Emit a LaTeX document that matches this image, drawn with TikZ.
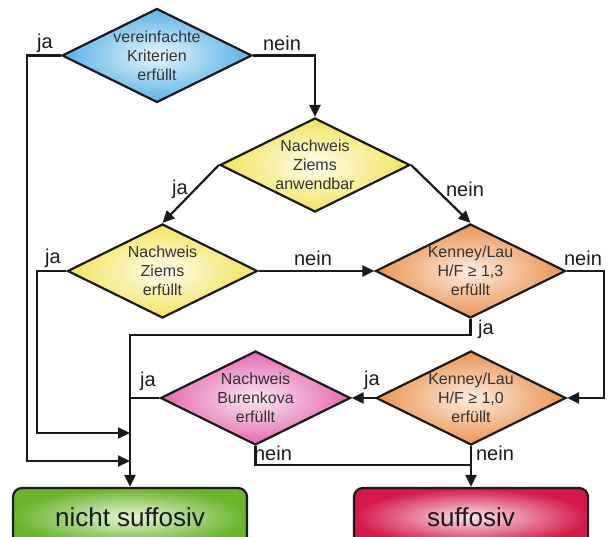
\documentclass[tikz,border=0pt]{standalone}
\usepackage{fontspec}
\setmainfont{Liberation Sans}
\usetikzlibrary{shapes.geometric, arrows.meta}
\definecolor{lineC}{HTML}{1A1A1A}
\definecolor{txtC}{HTML}{333333}
\definecolor{blueO}{HTML}{55B3E8}
\definecolor{blueI}{HTML}{EAF6FC}
\definecolor{yelO}{HTML}{F2E45C}
\definecolor{yelI}{HTML}{FFFDF0}
\definecolor{oraO}{HTML}{EA9450}
\definecolor{oraI}{HTML}{FCEDE0}
\definecolor{pinO}{HTML}{E468B0}
\definecolor{pinI}{HTML}{FBEAF3}
\definecolor{greO}{HTML}{6BB42C}
\definecolor{greI}{HTML}{E8F4D8}
\definecolor{redO}{HTML}{D41848}
\definecolor{redI}{HTML}{FAE6EC}
\begin{document}
\begin{tikzpicture}[x=1pt,y=-1pt, line width=2.2pt,
  conn/.style={draw=lineC, line width=2.2pt},
  dia/.style={shape=diamond, draw=lineC, line width=2.2pt, minimum width=190pt, minimum height=94pt, inner sep=0pt},
  dtext/.style={align=center, text=txtC, font=\fontsize{16}{19}\selectfont, inner sep=0pt},
  lab/.style={text=lineC, font=\fontsize{20}{24}\selectfont, inner sep=0pt},
  endbox/.style={draw=lineC, line width=2.2pt, rounded corners=9pt, minimum width=234pt, minimum height=58pt, inner sep=0pt, text=lineC, font=\fontsize{26}{30}\selectfont},
  arr/.style={conn, -{Triangle[length=12pt,width=11pt]}}
]
\useasboundingbox (0,0) rectangle (611,537);

\node[dia, inner color=blueI, outer color=blueO, label={[dtext]center:{vereinfachte\\Kriterien\\erfüllt}}] (d1) at (157,55.5) {};
\node[dia, inner color=yelI, outer color=yelO, label={[dtext]center:{Nachweis\\Ziems\\anwendbar}}] (d2) at (315,165) {};
\node[dia, inner color=yelI, outer color=yelO, label={[dtext]center:{Nachweis\\Ziems\\erfüllt}}] (d3) at (162.5,271) {};
\node[dia, inner color=oraI, outer color=oraO, label={[dtext]center:{Kenney/Lau\\H/F ≥ 1,3\\erfüllt}}] (d4) at (470.5,271) {};
\node[dia, inner color=oraI, outer color=oraO, label={[dtext]center:{Kenney/Lau\\H/F ≥ 1,0\\erfüllt}}] (d5) at (471,398) {};
\node[dia, inner color=pinI, outer color=pinO, label={[dtext]center:{Nachweis\\Burenkova\\erfüllt}}] (d6) at (255.5,398) {};

\node[endbox, inner color=greI, outer color=greO] (ns) at (130,517) {nicht suffosiv};
\node[endbox, inner color=redI, outer color=redO] (su) at (471,517) {suffosiv};

\coordinate (a1) at (27,461);
\coordinate (a2) at (37,433);
\coordinate (j1) at (130,335);
\coordinate (j2) at (471,465);
\coordinate (r1) at (604,271);

\draw[arr] (d1.west) -| (a1) -- (a1 -| ns.north);
\draw[arr] (d3.west) -| (a2) -- (a2 -| ns.north);
\draw[arr] (d4.south) |- (j1) -- (ns.north);
\draw[conn] (d6.west) -- (d6.west -| ns.north);
\draw[arr] (d1.east) -| (d2.north);
\draw[arr] (d2.west) -- (d3.north);
\draw[arr] (d2.east) -- (d4.north);
\draw[arr] (d3.east) -- (d4.west);
\draw[arr] (d4.east) -- (r1) |- (d5.east);
\draw[arr] (d5.west) -- (d6.east);
\draw[arr] (d5.south) -- (su.north);
\draw[conn] (d6.south) |- (j2);

\node[lab] (l1) at (45,43) {ja};
\node[lab] (l2) at (282,43) {nein};
\node[lab] (l3) at (180,189) {ja};
\node[lab] (l4) at (465,189) {nein};
\node[lab] (l5) at (53,258) {ja};
\node[lab] (l6) at (313,258) {nein};
\node[lab] (l7) at (583,258) {nein};
\node[lab] (l8) at (486,329) {ja};
\node[lab] (l9) at (372,380) {ja};
\node[lab] (l10) at (148,381) {ja};
\node[lab] (l11) at (273,453) {nein};
\node[lab] (l12) at (495,453) {nein};
\end{tikzpicture}
\end{document}
